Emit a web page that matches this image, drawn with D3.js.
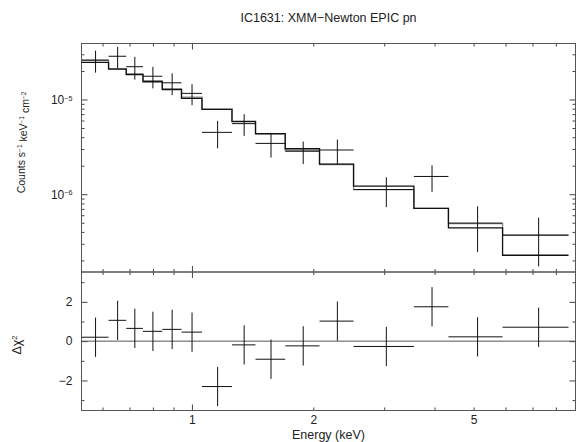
<!DOCTYPE html>
<html>
<head>
<meta charset="utf-8">
<script src="https://cdn.jsdelivr.net/npm/d3@7"></script>
<style>
body { margin: 0; background: #fff; }
svg text { font-family: "Liberation Sans", Arial, Helvetica, sans-serif; fill: #222; }
</style>
</head>
<body>
<svg id="chart" width="576" height="442"></svg>
<script>
// energy bin edges (keV)
const binEdges = [0.532, 0.621, 0.687, 0.756, 0.844, 0.942, 1.059, 1.257, 1.438, 1.704, 2.073, 2.518, 3.555, 4.33, 5.90, 8.60];

// counts s-1 keV-1 cm-2
const rate    = [2.60e-5, 2.86e-5, 2.22e-5, 1.76e-5, 1.50e-5, 1.16e-5, 4.5e-6, 5.56e-6, 3.44e-6, 2.84e-6, 2.93e-6, 1.12e-6, 1.54e-6, 4.96e-7, 3.7e-7];
const rateErr = [6.8e-6, 7.3e-6, 6.0e-6, 4.5e-6, 3.9e-6, 2.9e-6, 1.45e-6, 1.43e-6, 1.0e-6, 7.6e-7, 8.5e-7, 3.9e-7, 4.8e-7, 2.5e-7, 1.97e-7];

// folded models: the fitted one (black) and the alternative (grey)
const modelFit = [2.46e-5, 2.09e-5, 1.83e-5, 1.54e-5, 1.27e-5, 1.03e-5, 7.85e-6, 5.83e-6, 4.36e-6, 3.02e-6, 2.08e-6, 1.22e-6, 7.1e-7, 4.41e-7, 2.27e-7];
const modelAlt = [2.60e-5, 2.12e-5, 1.87e-5, 1.58e-5, 1.30e-5, 1.06e-5, 7.9e-6, 5.9e-6, 4.3e-6, 2.91e-6, 2.06e-6, 1.12e-6, 7.1e-7, 4.9e-7, 3.69e-7];

// residuals (delta chi)
const resid    = [0.2, 1.06, 0.65, 0.5, 0.6, 0.46, -2.31, -0.19, -0.92, -0.24, 1.02, -0.27, 1.75, 0.22, 0.71];
const residErr = [1, 1, 1, 1, 1, 1, 1, 1, 1, 1, 1, 1, 1, 1, 1];

// ticks
const energyMajor = [1];
const energyMinor = [0.6, 0.7, 0.8, 0.9, 2, 3, 4, 5, 6, 7, 8];
const energyLabels = [1, 2, 5];
const rateMajor = [1e-6, 1e-5];
const rateMinor = [2e-7, 3e-7, 4e-7, 5e-7, 6e-7, 7e-7, 8e-7, 9e-7, 2e-6, 3e-6, 4e-6, 5e-6, 6e-6, 7e-6, 8e-6, 9e-6, 2e-5, 3e-5];
const residMajor = [-2, 0, 2];
const residMinor = [-3, -1, 1, 3];

function drawSpectrum(graphId) {
    let svg0 = d3.select('#' + graphId),
        margin = { top: 43.5, right: 0.5, bottom: 31.5, left: 81.5 },
        width = +svg0.attr('width') - margin.left - margin.right,
        topH = 228.5,
        botH = 138.5,
        axisColor = '#444',
        tickFont = 12,
        titleFont = 12.5;

    let svg = svg0.append('g')
        .attr('transform', 'translate(' + margin.left + ',' + margin.top + ')');

    let xScale = d3.scaleLog().domain([0.532, 8.95]).range([0, width]);
    let yTop = d3.scaleLog().domain([1.51e-7, 3.9e-5]).range([topH, 0]);
    let yBot = d3.scaleLinear().domain([-3.53, 3.52]).range([botH, 0]);

    let bins = rate.map((r, i) => ({
        lo: binEdges[i],
        hi: binEdges[i + 1],
        mid: (binEdges[i] + binEdges[i + 1]) / 2,
        rate: r,
        err: rateErr[i],
        fit: modelFit[i],
        alt: modelAlt[i],
        res: resid[i],
        resErr: residErr[i]
    }));

    let upper = svg.append('g');
    let lower = svg.append('g').attr('transform', 'translate(0,' + topH + ')');

    // tick helper: inward ticks on all four sides
    function ticks(g, axisFn, scale, values, size, tx, ty) {
        let a = g.append('g')
            .attr('transform', 'translate(' + tx + ',' + ty + ')')
            .call(axisFn(scale).tickValues(values).tickSize(-size).tickFormat(''));
        a.select('.domain').remove();
        a.selectAll('line').attr('stroke', axisColor);
        return a;
    }

    [[upper, yTop, topH, rateMajor, rateMinor], [lower, yBot, botH, residMajor, residMinor]].forEach(p => {
        let [g, ys, h, maj, mnr] = p;
        ticks(g, d3.axisTop, xScale, energyMajor, 6, 0, 0);
        ticks(g, d3.axisTop, xScale, energyMinor, 3, 0, 0);
        ticks(g, d3.axisBottom, xScale, energyMajor, 6, 0, h);
        ticks(g, d3.axisBottom, xScale, energyMinor, 3, 0, h);
        ticks(g, d3.axisLeft, ys, maj, 6, 0, 0);
        ticks(g, d3.axisLeft, ys, mnr, 3, 0, 0);
        ticks(g, d3.axisRight, ys, maj, 6, width, 0);
        ticks(g, d3.axisRight, ys, mnr, 3, width, 0);

        g.append('rect')
            .attr('width', width)
            .attr('height', h)
            .attr('fill', 'none')
            .attr('stroke', '#555');
    });

    // y labels, upper panel: 10^-n
    let rateLab = upper.append('g')
        .call(d3.axisLeft(yTop).tickValues(rateMajor).tickSize(0).tickPadding(9));
    rateLab.select('.domain').remove();
    rateLab.selectAll('.tick text')
        .attr('font-size', tickFont)
        .attr('font-family', null)
        .each(function(d) {
            let t = d3.select(this).text(null);
            t.append('tspan').text('10');
            t.append('tspan')
                .attr('dy', '-0.45em')
                .attr('font-size', tickFont * 0.6)
                .text('\u2212' + Math.round(-Math.log10(d)));
        });

    // y labels, lower panel
    let resLab = lower.append('g')
        .call(d3.axisLeft(yBot).tickValues(residMajor).tickSize(0).tickPadding(9).tickFormat(d3.format('d')));
    resLab.select('.domain').remove();
    resLab.selectAll('.tick text')
        .attr('font-size', tickFont)
        .attr('font-family', null);

    // x labels
    let xLab = lower.append('g')
        .attr('transform', 'translate(0,' + botH + ')')
        .call(d3.axisBottom(xScale).tickValues(energyLabels).tickSize(0).tickPadding(5).tickFormat(d3.format('d')));
    xLab.select('.domain').remove();
    xLab.selectAll('.tick text')
        .attr('font-size', tickFont)
        .attr('font-family', null);

    // zero line in residual panel
    lower.append('line')
        .attr('x1', 0)
        .attr('x2', width)
        .attr('y1', yBot(0))
        .attr('y2', yBot(0))
        .attr('stroke', '#555')
        .attr('stroke-width', 1);

    // model step histograms
    let step = key => d3.line()
        .x(d => xScale(d[0]))
        .y(d => yTop(d[1]))(bins.flatMap(b => [[b.lo, b[key]], [b.hi, b[key]]]));

    upper.append('path')
        .attr('d', step('alt'))
        .attr('fill', 'none')
        .attr('stroke', '#8c8c8c')
        .attr('stroke-width', 1.3);

    upper.append('path')
        .attr('d', step('fit'))
        .attr('fill', 'none')
        .attr('stroke', '#111')
        .attr('stroke-width', 1.3);

    // data crosses
    let cross = upper.selectAll('.data-cross')
        .data(bins)
        .enter()
        .append('g')
        .attr('class', 'data-cross')
        .attr('stroke', '#111')
        .attr('stroke-width', 1);

    cross.append('line')
        .attr('x1', d => xScale(d.lo))
        .attr('x2', d => xScale(d.hi))
        .attr('y1', d => yTop(d.rate))
        .attr('y2', d => yTop(d.rate));

    cross.append('line')
        .attr('x1', d => xScale(d.mid))
        .attr('x2', d => xScale(d.mid))
        .attr('y1', d => yTop(d.rate - d.err))
        .attr('y2', d => yTop(d.rate + d.err));

    // residual crosses
    let rcross = lower.selectAll('.res-cross')
        .data(bins)
        .enter()
        .append('g')
        .attr('class', 'res-cross')
        .attr('stroke', '#111')
        .attr('stroke-width', 1);

    rcross.append('line')
        .attr('x1', d => xScale(d.lo))
        .attr('x2', d => xScale(d.hi))
        .attr('y1', d => yBot(d.res))
        .attr('y2', d => yBot(d.res));

    rcross.append('line')
        .attr('x1', d => xScale(d.mid))
        .attr('x2', d => xScale(d.mid))
        .attr('y1', d => yBot(d.res - d.resErr))
        .attr('y2', d => yBot(d.res + d.resErr));

    // title
    svg.append('text')
        .attr('x', width / 2)
        .attr('y', -21.5)
        .attr('text-anchor', 'middle')
        .attr('font-size', titleFont)
        .text('IC1631: XMM\u2212Newton EPIC pn');

    // x-axis title
    svg.append('text')
        .attr('x', width / 2)
        .attr('y', topH + botH + 28.5)
        .attr('text-anchor', 'middle')
        .attr('font-size', titleFont)
        .text('Energy (keV)');

    // y-axis titles
    let yl = svg.append('text')
        .attr('transform', 'translate(' + (-61) + ',' + 99 + ') rotate(-90)')
        .attr('text-anchor', 'middle')
        .attr('font-size', 10.5);
    [['Counts s', false], ['\u22121', true], [' keV', false], ['\u22121', true], [' cm', false], ['\u22122', true]].forEach(p => {
        yl.append('tspan')
            .attr('dy', p[1] ? '-0.45em' : (yl.selectAll('tspan').size() ? '0.45em' : 0))
            .attr('font-size', p[1] ? 6.5 : 10.5)
            .text(p[0]);
    });

    let dl = svg.append('text')
        .attr('transform', 'translate(' + (-61) + ',' + (topH + 73) + ') rotate(-90)')
        .attr('text-anchor', 'middle')
        .attr('font-size', titleFont);
    dl.append('tspan').text('\u0394\u03c7');
    dl.append('tspan')
        .attr('dy', '-0.45em')
        .attr('font-size', titleFont * 0.6)
        .text('2');
}

drawSpectrum('chart');
</script>
</body>
</html>
